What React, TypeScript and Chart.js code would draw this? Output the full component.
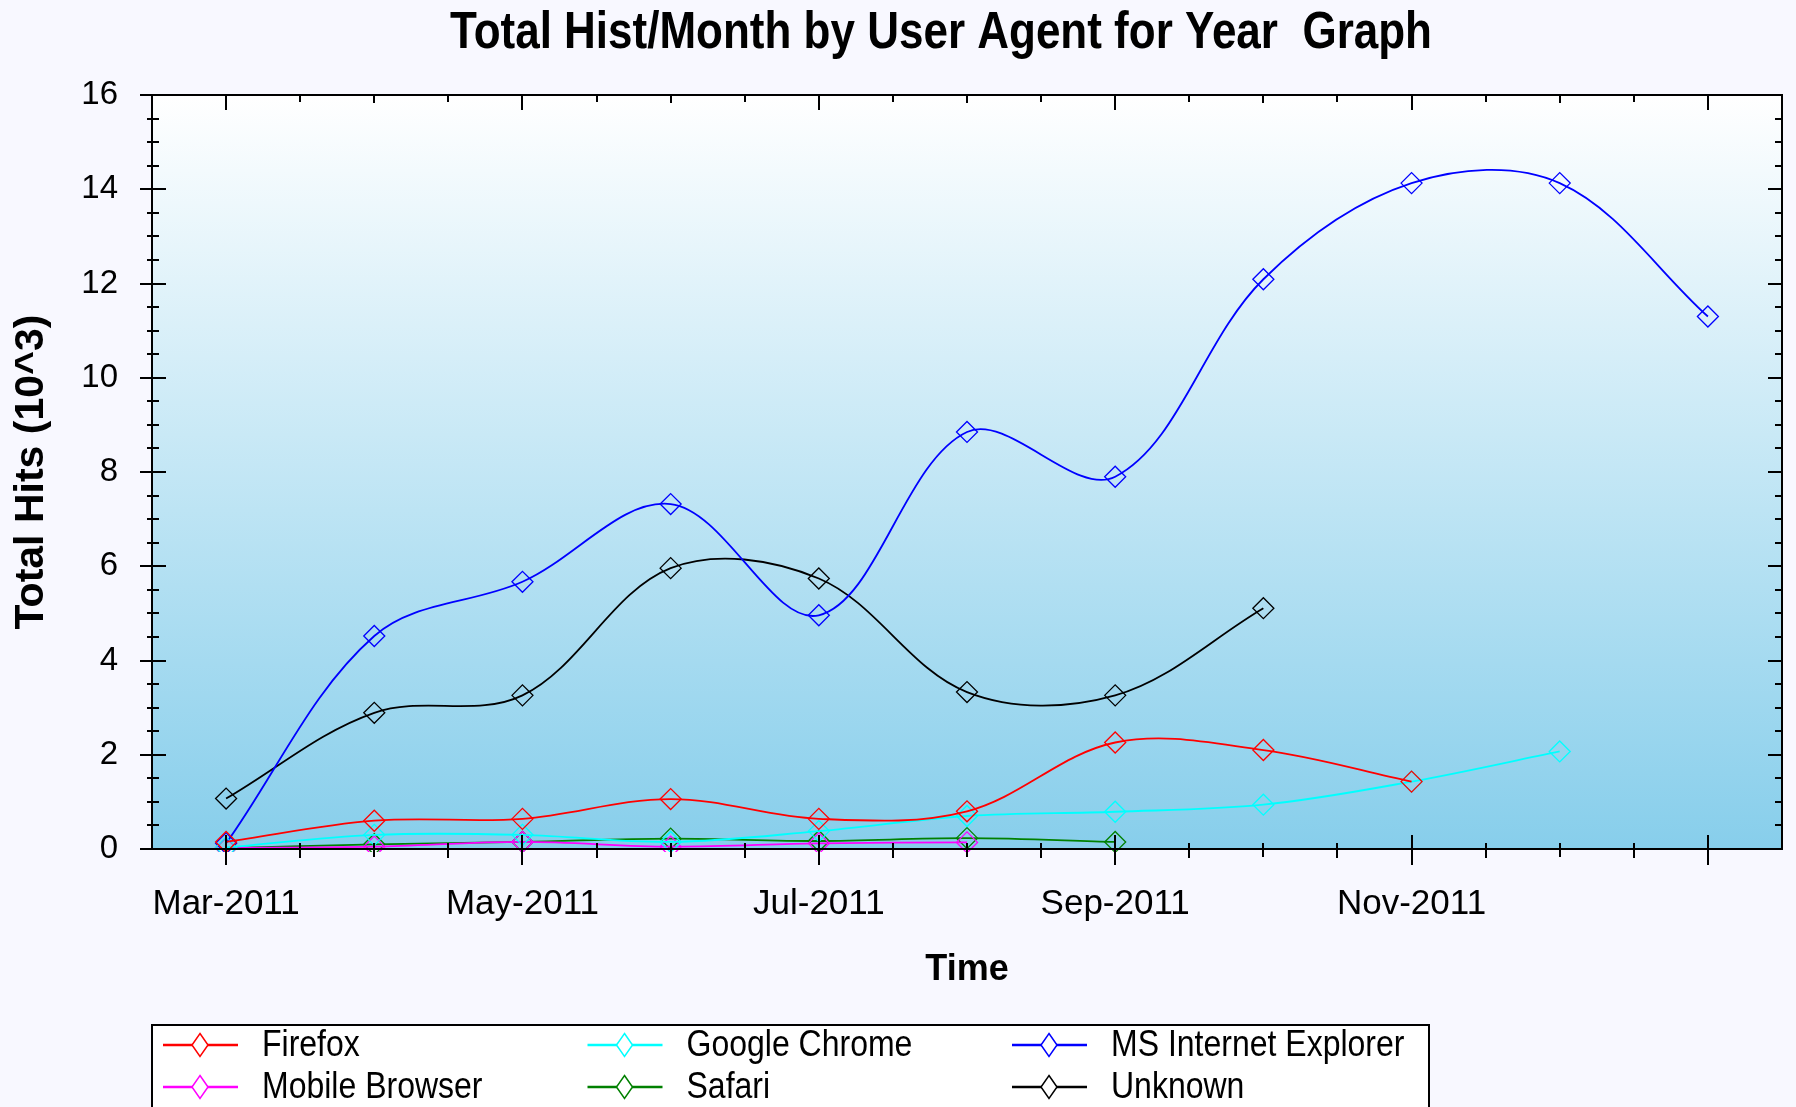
import React, { useEffect, useRef } from "react";
import { Chart, registerables } from "chart.js";

Chart.register(...registerables);

// ---------- data ----------
const months = [
  "Mar-2011", "Apr-2011", "May-2011", "Jun-2011", "Jul-2011", "Aug-2011",
  "Sep-2011", "Oct-2011", "Nov-2011", "Dec-2011", "Jan-2012",
];
const labeledMonths = ["Mar-2011", "May-2011", "Jul-2011", "Sep-2011", "Nov-2011"];

const firefox = [0.15, 0.6, 0.64, 1.06, 0.64, 0.8, 2.26, 2.1, 1.43, null, null];
const googleChrome = [0.03, 0.3, 0.3, 0.15, 0.38, 0.7, 0.79, 0.94, 1.43, 2.07, null];
const msInternetExplorer = [0.12, 4.52, 5.67, 7.32, 4.96, 8.85, 7.9, 12.09, 14.13, 14.13, 11.3];
const mobileBrowser = [0.02, 0.05, 0.15, 0.05, 0.12, 0.14, null, null, null, null, null];
const safari = [0.02, 0.1, 0.15, 0.22, 0.17, 0.23, 0.15, null, null, null, null];
const unknown = [1.07, 2.89, 3.26, 5.96, 5.74, 3.33, 3.26, 5.11, null, null, null];

const seriesNames = ["Firefox", "Google Chrome", "MS Internet Explorer", "Mobile Browser", "Safari", "Unknown"];
const seriesColors = ["#FF0000", "#00FFFF", "#0000FF", "#FF00FF", "#008000", "#000000"];
const seriesData = [firefox, googleChrome, msInternetExplorer, mobileBrowser, safari, unknown];

const yMin = 0;
const yMax = 16;
const yStep = 2;
const yMinorStep = 0.5;

const chartTitle = "Total Hist/Month by User Agent for Year  Graph";
const xTitle = "Time";
const yTitle = "Total Hits (10^3)";

const FONT = "'Liberation Sans', Arial, Helvetica, sans-serif";

// ---------- plugins ----------
const backgroundPlugin = {
  id: "bgPlugin",
  beforeDraw(chart: any) {
    const { ctx, chartArea, width, height } = chart;
    ctx.save();
    ctx.fillStyle = "#F8F8FF";
    ctx.fillRect(0, 0, width, height);
    if (chartArea) {
      const g = ctx.createLinearGradient(0, chartArea.top, 0, chartArea.bottom);
      g.addColorStop(0, "#FFFFFF");
      g.addColorStop(1, "#87CEEB");
      ctx.fillStyle = g;
      ctx.fillRect(chartArea.left, chartArea.top, chartArea.right - chartArea.left, chartArea.bottom - chartArea.top);
    }
    ctx.restore();
  },
};

const titlePlugin = {
  id: "titlePlugin",
  afterDraw(chart: any) {
    const { ctx } = chart;
    ctx.save();
    ctx.fillStyle = "#000";
    ctx.font = `bold 44px ${FONT}`;
    ctx.textAlign = "center";
    ctx.textBaseline = "middle";
    ctx.translate(941, 34);
    ctx.scale(1, 1.18);
    ctx.fillText(chartTitle, 0, 0);
    ctx.restore();
  },
};

const framePlugin = {
  id: "framePlugin",
  afterDraw(chart: any) {
    const { ctx, chartArea } = chart;
    const { left, right, top, bottom } = chartArea;
    const x = chart.scales.x;
    const y = chart.scales.y;
    ctx.save();
    ctx.strokeStyle = "#000";
    ctx.lineWidth = 2;
    ctx.beginPath();
    for (let i = 0; i < months.length; i++) {
      const px = Math.round(x.getPixelForValue(i));
      const major = i % 2 === 0;
      ctx.moveTo(px, bottom - (major ? 14 : 6));
      ctx.lineTo(px, bottom + (major ? 16 : 8));
      ctx.moveTo(px, top);
      ctx.lineTo(px, top + (major ? 15 : 8));
      if (i < months.length - 1) {
        const hx = Math.round((x.getPixelForValue(i) + x.getPixelForValue(i + 1)) / 2);
        ctx.moveTo(hx, bottom - 6);
        ctx.lineTo(hx, bottom + 9);
        ctx.moveTo(hx, top);
        ctx.lineTo(hx, top + 7);
      }
    }
    for (let v = yMin; v <= yMax + 1e-9; v += yMinorStep) {
      const py = Math.round(y.getPixelForValue(v));
      const major = Math.abs(v / yStep - Math.round(v / yStep)) < 1e-6;
      ctx.moveTo(left - (major ? 12 : 5), py);
      ctx.lineTo(left + (major ? 14 : 7), py);
      ctx.moveTo(right, py);
      ctx.lineTo(right - (major ? 14 : 7), py);
    }
    ctx.stroke();
    ctx.strokeRect(left, top, right - left, bottom - top);
    ctx.restore();
  },
};

const legendPlugin = {
  id: "legendPlugin",
  afterDraw(chart: any) {
    const { ctx } = chart;
    const boxLeft = 152;
    const boxTop = 1025;
    const boxRight = 1429;
    ctx.save();
    ctx.fillStyle = "#FFFFFF";
    ctx.fillRect(boxLeft, boxTop, boxRight - boxLeft, 200);
    ctx.strokeStyle = "#000";
    ctx.lineWidth = 2;
    ctx.strokeRect(boxLeft, boxTop, boxRight - boxLeft, 200);
    chart.data.datasets.forEach((ds: any, i: number) => {
      const col = i % 3;
      const row = Math.floor(i / 3);
      const x0 = 163 + col * 424.5;
      const yc = 1045 + row * 42;
      ctx.strokeStyle = ds.borderColor;
      ctx.lineWidth = 2.5;
      ctx.beginPath();
      ctx.moveTo(x0, yc);
      ctx.lineTo(x0 + 75, yc);
      ctx.stroke();
      const cx = x0 + 37;
      ctx.lineWidth = 1.5;
      ctx.beginPath();
      ctx.moveTo(cx, yc - 11.5);
      ctx.lineTo(cx + 8, yc);
      ctx.lineTo(cx, yc + 11.5);
      ctx.lineTo(cx - 8, yc);
      ctx.closePath();
      ctx.fillStyle = "#FFFFFF";
      ctx.fill();
      ctx.stroke();
      ctx.save();
      ctx.fillStyle = "#000";
      ctx.font = `32px ${FONT}`;
      ctx.textBaseline = "middle";
      ctx.textAlign = "left";
      ctx.translate(x0 + 99, yc + 1);
      ctx.scale(1, 1.15);
      ctx.fillText(ds.label, 0, 0);
      ctx.restore();
    });
    ctx.restore();
  },
};

export default function App() {
  const canvasRef = useRef<HTMLCanvasElement | null>(null);

  useEffect(() => {
    if (!canvasRef.current) return;
    const datasets = seriesNames.map((name, i) => ({
      label: name,
      data: seriesData[i],
      borderColor: seriesColors[i],
      backgroundColor: "rgba(0,0,0,0)",
      borderWidth: 1.8,
      tension: 0.35,
      fill: false,
      pointStyle: "rectRot",
      pointRadius: 10.5,
      pointHoverRadius: 10.5,
      pointBorderWidth: 1.3,
      pointBorderColor: seriesColors[i],
      pointBackgroundColor: "rgba(0,0,0,0)",
      spanGaps: false,
      clip: { left: false, right: false, top: false, bottom: 3 },
    }));

    const chart = new Chart(canvasRef.current, {
      type: "line",
      data: { labels: months, datasets },
      options: {
        animation: false,
        responsive: true,
        maintainAspectRatio: false,
        devicePixelRatio: 1,
        color: "#000",
        layout: { padding: { top: 95, right: 14, left: 0, bottom: 0 } },
        plugins: {
          legend: { display: false },
          title: { display: false },
          tooltip: { enabled: false },
        },
        scales: {
          x: {
            type: "category",
            offset: true,
            grid: { display: false, drawTicks: false, tickLength: 0 },
            border: { display: false },
            ticks: {
              autoSkip: false,
              maxRotation: 0,
              minRotation: 0,
              padding: 34,
              color: "#000",
              font: { family: FONT, size: 35, lineHeight: 1.2 },
              callback: function (this: any, value: any) {
                const lbl = months[value as number];
                return labeledMonths.includes(lbl) ? lbl : "";
              },
            },
            title: {
              display: true,
              text: xTitle,
              color: "#000",
              font: { family: FONT, size: 36, weight: "bold", lineHeight: 1.2 },
              padding: { top: 0, bottom: 115 },
            },
            afterFit: (scale: any) => {
              scale.height = 258;
            },
          },
          y: {
            type: "linear",
            min: yMin,
            max: yMax,
            grid: { display: false, drawTicks: false, tickLength: 0 },
            border: { display: false },
            ticks: {
              stepSize: yStep,
              padding: 34,
              color: "#000",
              font: { family: FONT, size: 33, lineHeight: 1.2 },
            },
            title: {
              display: true,
              text: yTitle,
              color: "#000",
              font: { family: FONT, size: 41, weight: "bold", lineHeight: 1.2 },
              padding: { top: 7, bottom: 0 },
            },
            afterFit: (scale: any) => {
              scale.width = 152;
            },
          },
        },
      },
      plugins: [backgroundPlugin, framePlugin, titlePlugin, legendPlugin],
    } as any);

    return () => chart.destroy();
  }, []);

  return (
    <div
      style={{
        position: "fixed",
        left: 0,
        top: 0,
        width: "1796px",
        height: "1107px",
        background: "#F8F8FF",
      }}
    >
      <canvas ref={canvasRef} />
    </div>
  );
}
